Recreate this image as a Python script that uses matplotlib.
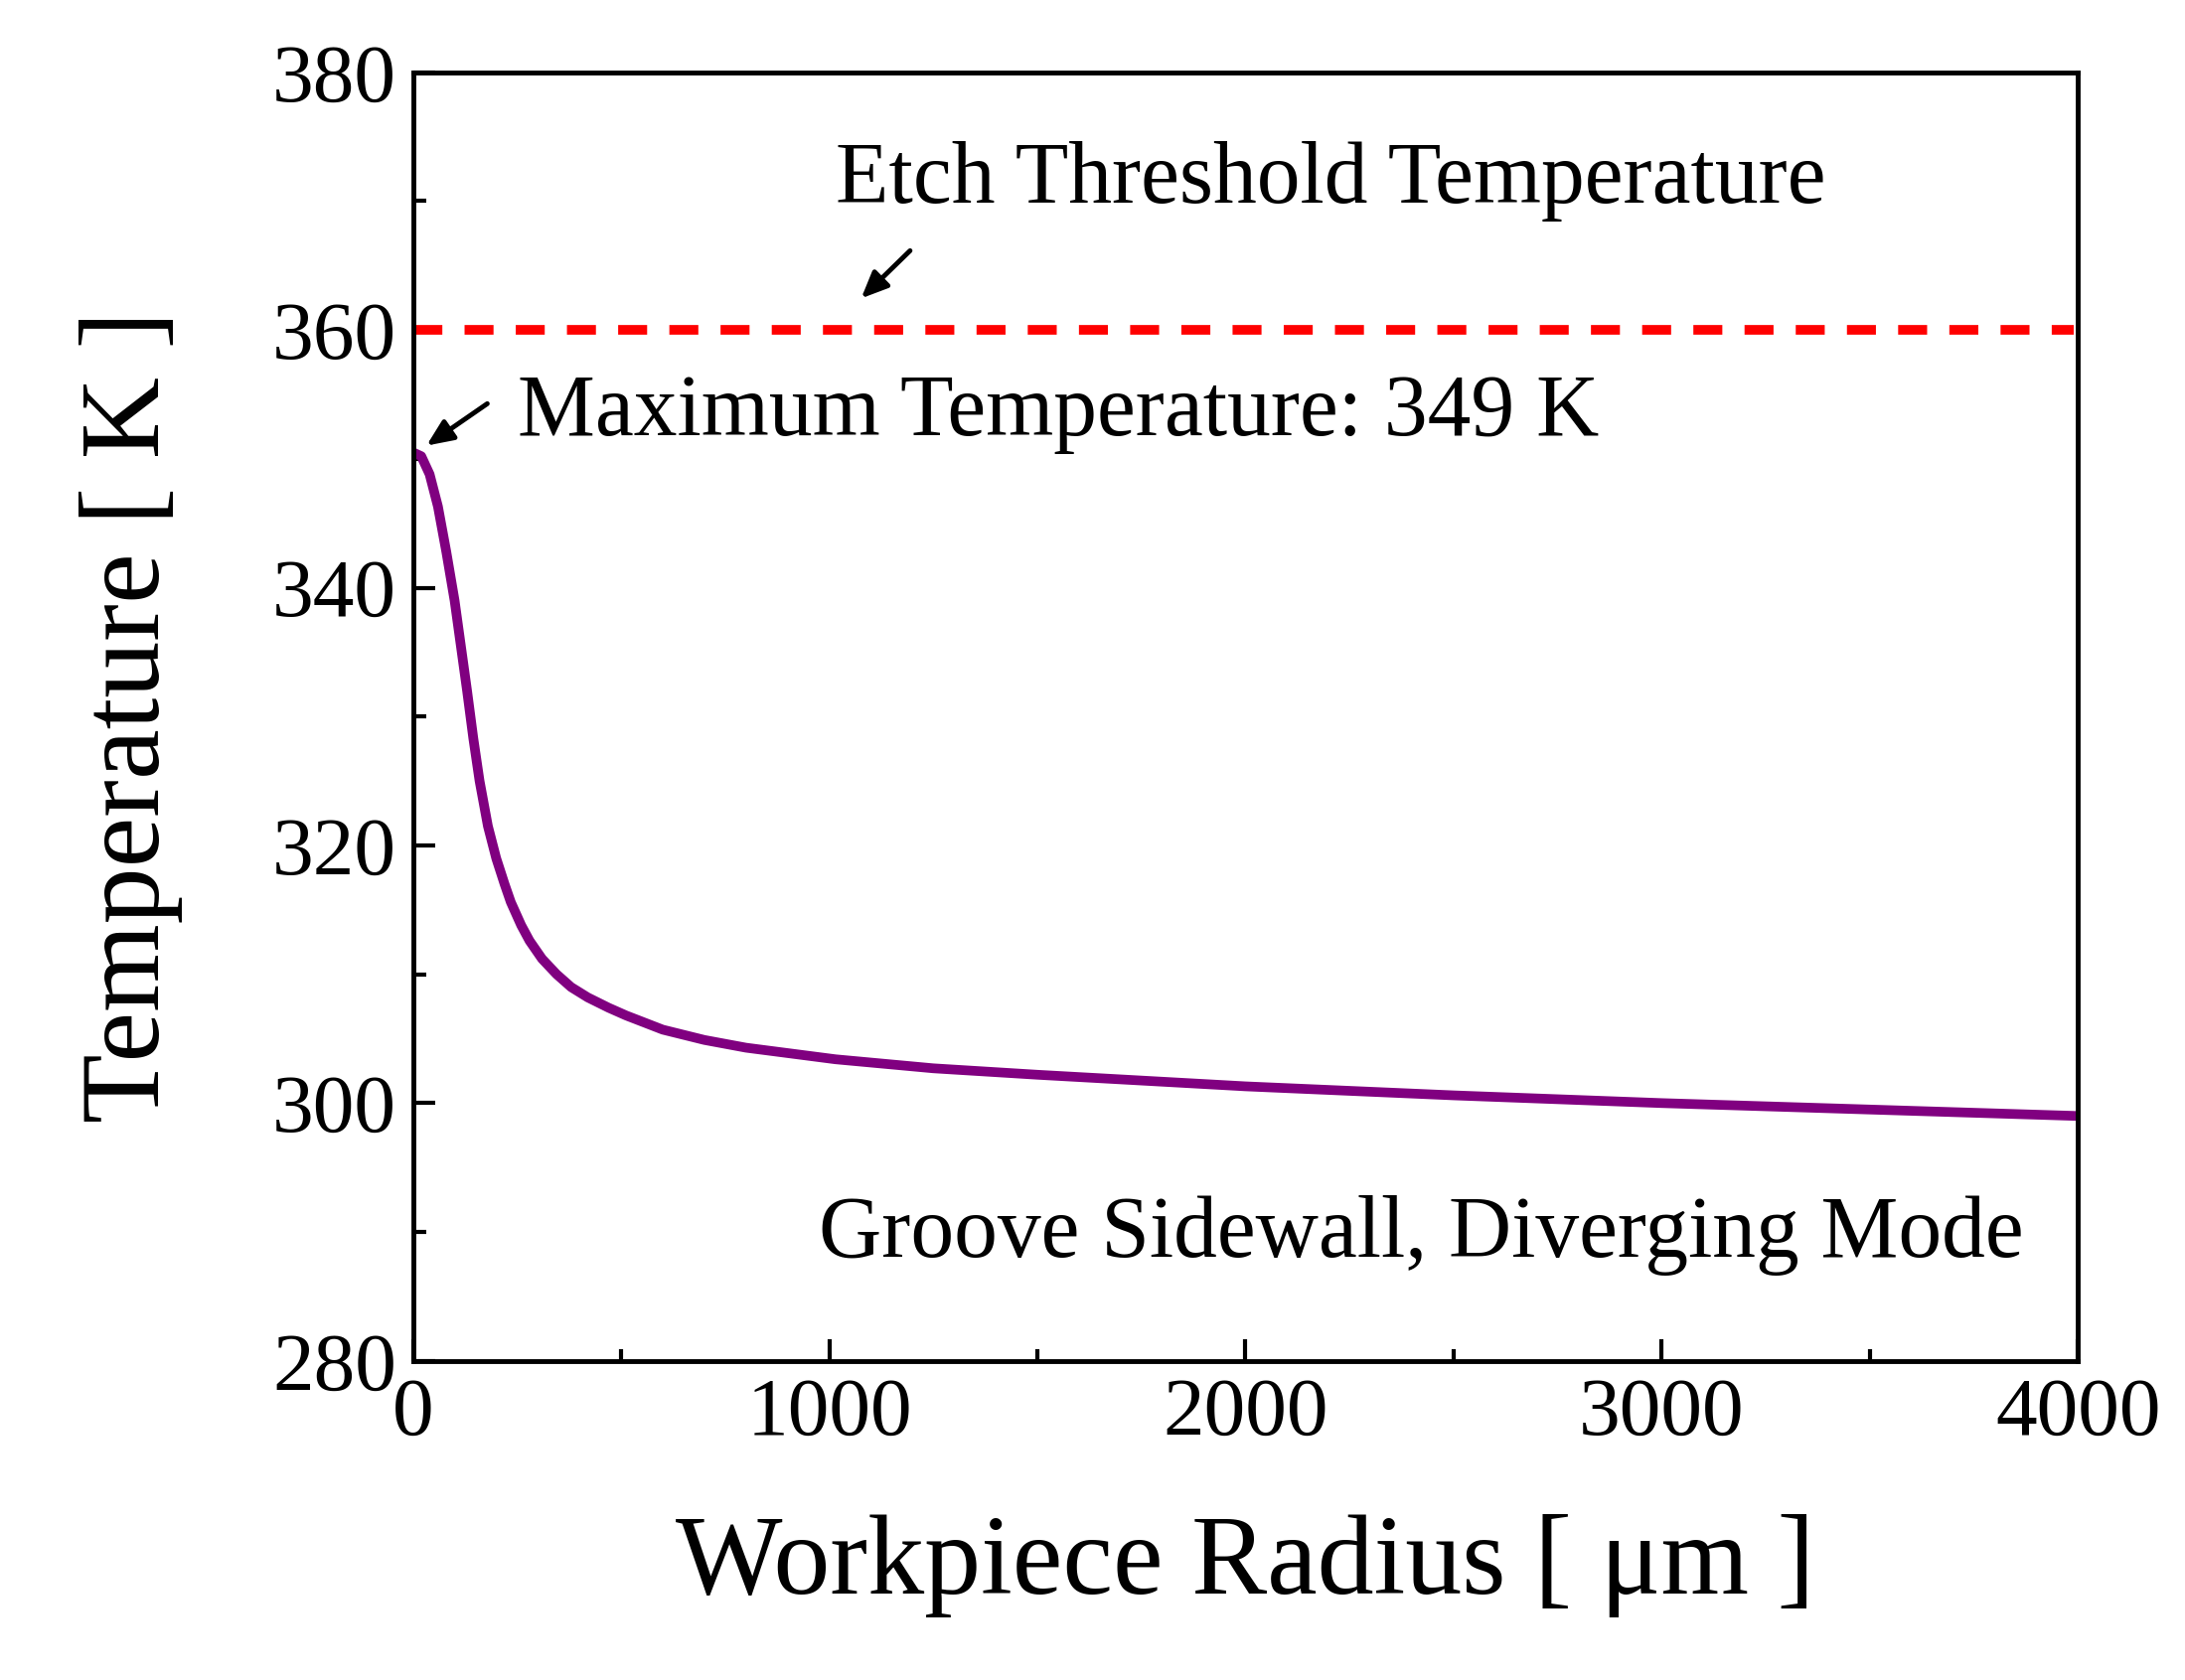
import matplotlib
matplotlib.use("Agg")
import matplotlib.pyplot as plt

radius = [0, 20, 40, 60, 80, 100, 115, 130, 145, 160, 180, 200, 220, 235, 260, 280, 310, 345, 380, 420, 470, 512, 600, 700, 800, 1015, 1250, 1500, 2000, 2500, 3000, 3500, 4000]
temp = [350.5, 350.2, 348.8, 346.3, 342.8, 339.0, 335.5, 332.0, 328.3, 325.0, 321.5, 319.0, 317.0, 315.6, 313.8, 312.6, 311.2, 310.0, 309.0, 308.2, 307.4, 306.8, 305.7, 304.9, 304.3, 303.4, 302.7, 302.2, 301.3, 300.6, 300.0, 299.5, 299.0]
threshold_x = [0, 3990]
threshold_y = [360, 360]
xticks = [0, 1000, 2000, 3000, 4000]
yticks = [280, 300, 320, 340, 360, 380]

plt.rcParams['font.family'] = ['Liberation Serif', 'DejaVu Serif']
fig = plt.figure(figsize=(21.99, 16.91), dpi=100)
ax = fig.add_axes([0.189, 0.19, 0.762, 0.767])
ax.plot(radius, temp, color='#800080', lw=7, solid_joinstyle='round')
ax.plot(threshold_x, threshold_y, color='#ff0000', lw=7, ls=(0, (3, 2.3)))
ax.set_xlim(0, 4000)
ax.set_ylim(280, 380)
ax.set_xticks(xticks)
ax.set_yticks(yticks)
ax.set_xticks([500, 1500, 2500, 3500], minor=True)
ax.set_yticks([290, 310, 330, 350, 370], minor=True)
ax.tick_params(which='both', direction='in', width=3, labelsize=60, pad=12)
ax.tick_params(which='major', length=16)
ax.tick_params(which='minor', length=9)
for s in ax.spines.values():
    s.set_linewidth(3.5)
ax.set_xlabel('Workpiece Radius [ μm ]', fontsize=82, labelpad=45)
ax.set_ylabel('Temperature [ K ]', fontsize=82, labelpad=65)
ax.text(1015, 371.5, 'Etch Threshold Temperature', fontsize=63, va='center', ha='left')
ax.text(251, 353.5, 'Maximum Temperature: 349 K', fontsize=63, va='center', ha='left')
ax.text(3869, 289.7, 'Groove Sidewall, Diverging Mode', fontsize=63, va='center', ha='right')
ap = dict(arrowstyle='-|>,head_length=1.6,head_width=0.7', color='black', lw=3.5)
ax.annotate('', xy=(1072, 362.3), xytext=(1199, 366.3), arrowprops=ap)
ax.annotate('', xy=(27, 350.9), xytext=(184, 354.4), arrowprops=ap)
fig.savefig('out.png', dpi=100)
